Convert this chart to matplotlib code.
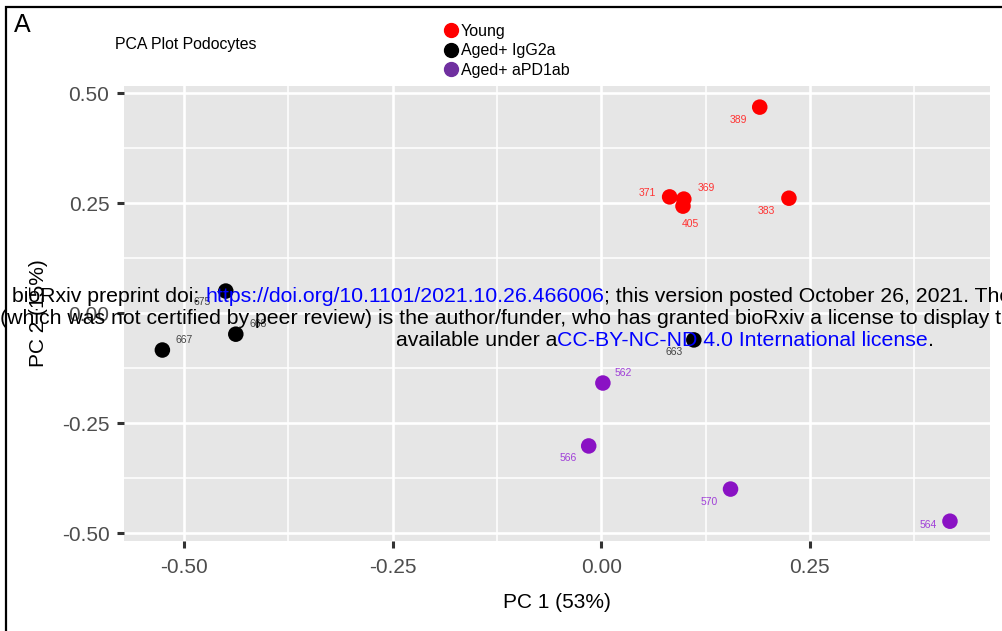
import matplotlib
matplotlib.use("Agg")
import matplotlib.pyplot as plt
from matplotlib.patches import Rectangle
from matplotlib.lines import Line2D
from matplotlib.text import Annotation

plt.rcParams['font.family'] = ['Liberation Sans', 'DejaVu Sans']

# ---- data ----
groups = ["Young", "Aged+ IgG2a", "Aged+ aPD1ab"]
young_ids = ["389", "371", "369", "405", "383"]
young_pc1 = [0.190, 0.082, 0.099, 0.098, 0.225]
young_pc2 = [0.468, 0.264, 0.259, 0.243, 0.261]

igg_ids = ["675", "668", "667", "663"]
igg_pc1 = [-0.450, -0.438, -0.526, 0.111]
igg_pc2 = [0.050, -0.048, -0.084, -0.061]

apd_ids = ["562", "566", "570", "564"]
apd_pc1 = [0.002, -0.015, 0.155, 0.418]
apd_pc2 = [-0.159, -0.302, -0.400, -0.473]

xticks = [-0.50, -0.25, 0.00, 0.25]
yticks = [-0.50, -0.25, 0.00, 0.25, 0.50]

# label offsets in points (layout)
young_off = [(-15, -9), (-16, 3), (16, 8), (5, -13), (-16, -9)]
igg_off = [(-17, -8), (16, 7), (16, 7), (-14, -9)]
apd_off = [(15, 7), (-15, -9), (-15, -9), (-16, -3)]

fig = plt.figure(figsize=(10.02, 6.31), dpi=100)
ax = fig.add_axes([124/1002, 1-541/631, (990-124)/1002, (541-86)/631])
ax.set_facecolor('#E6E6E6')
ax.set_xlim(-0.572, 0.466)
ax.set_ylim(-0.518, 0.516)
for s in ax.spines.values():
    s.set_visible(False)

ax.set_xticks(xticks)
ax.set_yticks(yticks)
ax.set_xticks([-0.375, -0.125, 0.125, 0.375], minor=True)
ax.set_yticks([-0.375, -0.125, 0.125, 0.375], minor=True)
ax.grid(which='major', color='white', lw=1.9)
ax.grid(which='minor', color='white', lw=1.1)
ax.set_axisbelow(True)
ax.tick_params(which='minor', length=0)
ax.tick_params(axis='y', which='major', length=5, width=2.2, color='#333333',
               labelsize=15, labelcolor='#4D4D4D', pad=5.5)
ax.tick_params(axis='x', which='major', length=5, width=2.2, color='#333333',
               labelsize=15, labelcolor='#4D4D4D', pad=7)
ax.set_xticklabels([f"{v:.2f}" for v in xticks])
ax.set_yticklabels([f"{v:.2f}" for v in yticks])
ax.set_xlabel("PC 1 (53%)", fontsize=15, labelpad=12)
ax.set_ylabel("PC 2 (15%)", fontsize=15, labelpad=10)

series = [
    (young_pc1, young_pc2, young_ids, young_off, '#FF0000', '#FF3333'),
    (igg_pc1, igg_pc2, igg_ids, igg_off, '#000000', '#444444'),
    (apd_pc1, apd_pc2, apd_ids, apd_off, '#8A12C4', '#A040D8'),
]
for xs, ys, ids, offs, col, lcol in series:
    ax.scatter(xs, ys, s=125, color=col, edgecolors='none', zorder=3)
    for x, y, t, o in zip(xs, ys, ids, offs):
        ax.annotate(t, (x, y), xytext=o, textcoords='offset points',
                    ha='center', va='center', fontsize=7.5, color=lcol, zorder=4)

# legend
leg_cols = ['#FF0000', '#000000', '#7030A0']
handles = [Line2D([], [], marker='o', ls='', color=c, markersize=10) for c in leg_cols]
fig.legend(handles, groups, loc='upper left', bbox_to_anchor=(433/1002, 1-16/631),
           frameon=False, fontsize=11.5, handletextpad=0.05, labelspacing=0.28,
           borderpad=0, handlelength=1.2)

fig.text(115/1002, 1-45/631, "PCA Plot Podocytes", fontsize=11.4, va='center', ha='left')
fig.text(14/1002, 1-25/631, "A", fontsize=18, va='center', ha='left')

# frame
fig.patches.append(Rectangle((6/1002, -0.1), 1.2, 1 - 7/631 + 0.1, transform=fig.transFigure,
                             fill=False, lw=1.6, ec='black'))

# watermark
wfs = 15.3
def chain(x, y, parts):
    prev = fig.text(x/1002, 1-y/631, parts[0][0], color=parts[0][1], fontsize=wfs,
                    va='center', ha='left', zorder=10)
    for s, c in parts[1:]:
        prev = fig.add_artist(Annotation(s, xy=(1, 0.5), xycoords=prev, xytext=(0, 0),
                                         textcoords='offset points', color=c, fontsize=wfs,
                                         va='center', ha='left', zorder=10))
    return prev

chain(12, 297, [("bioRxiv preprint doi: ", 'black'),
                ("https://doi.org/10.1101/2021.10.26.466006", '#0000FF'),
                ("; this version posted October 26, 2021. The copyright holder for this preprint", 'black')])
chain(0, 318, [("(which was not certified by peer review) is the author/funder, who has granted bioRxiv a license to display the preprint in perpetuity. It is made", 'black')])
chain(396, 340, [("available under a", 'black'),
                 ("CC-BY-NC-ND 4.0 International license", '#0000FF'),
                 (".", 'black')])

fig.savefig("out.png", dpi=100)
